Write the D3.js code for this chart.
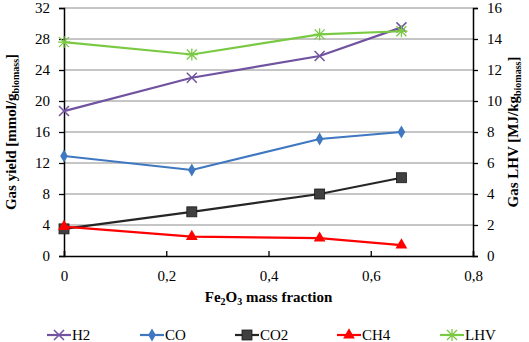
<!DOCTYPE html>
<html>
<head>
<meta charset="utf-8">
<script src="https://cdn.jsdelivr.net/npm/d3@7"></script>
<style>
  body { margin: 0; background: #fff; }
</style>
</head>
<body>
<div id="chart"></div>
<script>
// data
const fractions = [0, 0.25, 0.5, 0.66];
const h2 = [18.7, 23.0, 25.8, 29.5];
const co = [12.9, 11.1, 15.1, 16.0];
const co2 = [3.5, 5.7, 8.0, 10.1];
const ch4 = [3.8, 2.5, 2.3, 1.4];
const lhv = [13.8, 13.0, 14.3, 14.5];   // right axis
const xTicks = [0, 0.2, 0.4, 0.6, 0.8];
const yLeftTicks = [0, 4, 8, 12, 16, 20, 24, 28, 32];
const yRightTicks = [0, 2, 4, 6, 8, 10, 12, 14, 16];

const FONT = "'Liberation Serif'";

var width = 529, height = 342;
var margin = { top: 8, right: 56, bottom: 86, left: 64 };

var svg = d3.select("#chart").append("svg")
    .attr("width", width)
    .attr("height", height)
    .style("font-family", FONT);

var x = d3.scaleLinear().domain([0, 0.8]).range([margin.left, width - margin.right]);
var yL = d3.scaleLinear().domain([0, 32]).range([height - margin.bottom, margin.top]);
var yR = d3.scaleLinear().domain([0, 16]).range([height - margin.bottom, margin.top]);

// grid
svg.append("g")
    .selectAll("line")
    .data(yLeftTicks.slice(1))
    .enter()
    .append("line")
    .attr("x1", x(0)).attr("x2", x(0.8))
    .attr("y1", d => yL(d)).attr("y2", d => yL(d))
    .attr("stroke", "#8c8c8c").attr("stroke-width", 1);

var xAxis = svg.append("g")
    .attr("transform", `translate(0,${yL(0)})`)
    .call(d3.axisBottom(x).tickValues(xTicks).tickSize(-5).tickPadding(14)
        .tickFormat(d => d === 0 ? "0" : d3.format(".1f")(d).replace(".", ",")));
var yAxisL = svg.append("g")
    .attr("transform", `translate(${x(0)},0)`)
    .call(d3.axisLeft(yL).tickValues(yLeftTicks).tickSize(5).tickPadding(9));
var yAxisR = svg.append("g")
    .attr("transform", `translate(${x(0.8)},0)`)
    .call(d3.axisRight(yR).tickValues(yRightTicks).tickSize(5).tickPadding(9));

[xAxis, yAxisL, yAxisR].forEach(a => {
    a.attr("font-family", null);
    a.select(".domain").attr("stroke", "#000").attr("stroke-width", 1.5);
    a.selectAll(".tick line").attr("stroke", "#000").attr("stroke-width", 1.3);
    a.selectAll("text").attr("font-size", 15).attr("fill", "#000")
        .style("font-family", FONT);
});

// axis titles
var xt = svg.append("text")
    .attr("x", (x(0) + x(0.8)) / 2)
    .attr("y", 302)
    .attr("text-anchor", "middle")
    .attr("font-weight", "bold")
    .attr("font-size", 15)
    .style("font-family", FONT);
xt.append("tspan").text("Fe");
xt.append("tspan").text("2").attr("font-size", 10).attr("dy", 3);
xt.append("tspan").text("O").attr("dy", -3);
xt.append("tspan").text("3").attr("font-size", 10).attr("dy", 3);
xt.append("tspan").text(" mass fraction").attr("dy", -3);

var ytL = svg.append("text")
    .attr("transform", `translate(16,${(yL(0) + yL(32)) / 2}) rotate(-90)`)
    .attr("text-anchor", "middle")
    .attr("font-weight", "bold")
    .attr("font-size", 15)
    .style("font-family", FONT);
ytL.append("tspan").text("Gas yield [mmol/g");
ytL.append("tspan").text("biomass").attr("font-size", 10).attr("dy", 3);
ytL.append("tspan").text("]").attr("dy", -3);

var ytR = svg.append("text")
    .attr("transform", `translate(518,${(yL(0) + yL(32)) / 2}) rotate(-90)`)
    .attr("text-anchor", "middle")
    .attr("font-weight", "bold")
    .attr("font-size", 15)
    .style("font-family", FONT);
ytR.append("tspan").text("Gas LHV [MJ/kg");
ytR.append("tspan").text("biomass").attr("font-size", 10).attr("dy", 3);
ytR.append("tspan").text("]").attr("dy", -3);

// series
var series = [
    { name: "H2", values: h2, y: yL, color: "#7052a0", marker: "x" },
    { name: "CO", values: co, y: yL, color: "#3f78c0", marker: "diamond" },
    { name: "CO2", values: co2, y: yL, color: "#262626", marker: "square", fill: "#404040" },
    { name: "CH4", values: ch4, y: yL, color: "#ff0000", marker: "triangle" },
    { name: "LHV", values: lhv, y: yR, color: "#7ac943", marker: "star" }
];

function drawMarker(g, type, color, fill) {
    if (type === "x") {
        g.append("path").attr("d", "M-5,-5L5,5M-5,5L5,-5")
            .attr("stroke", color).attr("stroke-width", 1.5).attr("fill", "none");
    } else if (type === "star") {
        g.append("path").attr("d", "M-5,-5L5,5M-5,5L5,-5M-6,0L6,0M0,-6L0,6")
            .attr("stroke", color).attr("stroke-width", 1.3).attr("fill", "none");
    } else if (type === "diamond") {
        g.append("path").attr("d", d3.symbol(d3.symbolDiamond, 50)())
            .attr("fill", color);
    } else if (type === "square") {
        g.append("rect").attr("x", -5).attr("y", -5).attr("width", 10).attr("height", 10)
            .attr("fill", fill || color).attr("stroke", "#1a1a1a").attr("stroke-width", 0.8);
    } else if (type === "triangle") {
        g.append("path").attr("d", d3.symbol(d3.symbolTriangle, 60)())
            .attr("fill", color);
    }
}

var line = d3.line();

series.forEach(s => {
    var pts = s.values.map((v, i) => [x(fractions[i]), s.y(v)]);
    svg.append("path")
        .attr("d", line(pts))
        .attr("fill", "none")
        .attr("stroke", s.color)
        .attr("stroke-width", 2.2);
    pts.forEach(p => {
        var g = svg.append("g").attr("transform", `translate(${p[0]},${p[1]})`);
        drawMarker(g, s.marker, s.color, s.fill);
    });
});

// legend
var legendX = [47, 140, 235, 337, 440];
var legendY = 335;
series.forEach((s, i) => {
    var g = svg.append("g").attr("transform", `translate(${legendX[i]},${legendY})`);
    g.append("line").attr("x1", 0).attr("x2", 24).attr("y1", 0).attr("y2", 0)
        .attr("stroke", s.color).attr("stroke-width", 2.2);
    var m = g.append("g").attr("transform", "translate(12,0)");
    drawMarker(m, s.marker, s.color, s.fill);
    g.append("text").attr("x", 25).attr("y", 5)
        .attr("font-size", 15).style("font-family", FONT).text(s.name);
});
</script>
</body>
</html>
